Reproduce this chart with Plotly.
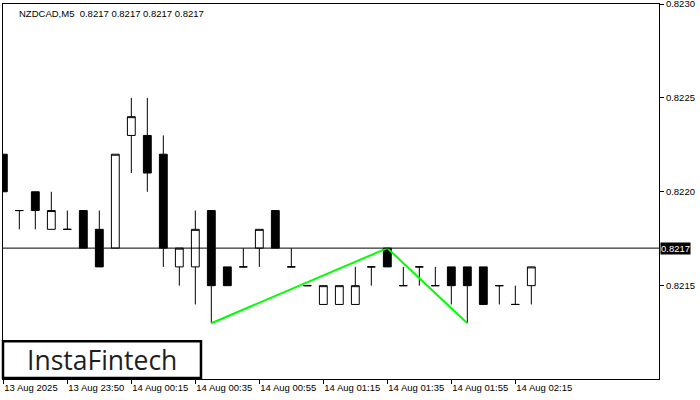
import plotly.graph_objects as go

# ---- data ----
bar_times = [
    "13 Aug 23:30", "13 Aug 23:35", "13 Aug 23:40", "13 Aug 23:45", "13 Aug 23:50",
    "13 Aug 23:55", "14 Aug 00:05", "14 Aug 00:10", "14 Aug 00:15", "14 Aug 00:20",
    "14 Aug 00:25", "14 Aug 00:30", "14 Aug 00:35", "14 Aug 00:40", "14 Aug 00:45",
    "14 Aug 00:50", "14 Aug 00:55", "14 Aug 01:00", "14 Aug 01:05", "14 Aug 01:10",
    "14 Aug 01:15", "14 Aug 01:20", "14 Aug 01:25", "14 Aug 01:30", "14 Aug 01:35",
    "14 Aug 01:40", "14 Aug 01:45", "14 Aug 01:50", "14 Aug 01:55", "14 Aug 02:00",
    "14 Aug 02:05", "14 Aug 02:10", "14 Aug 02:15", "14 Aug 02:20",
]
open_ = [0.8222, 0.8219, 0.8220, 0.8218, 0.8218, 0.8219, 0.8218, 0.8217, 0.8223, 0.8223,
         0.8222, 0.8216, 0.8216, 0.8219, 0.8216, 0.8216, 0.8217, 0.8219, 0.8216, 0.8215,
         0.8214, 0.8214, 0.8214, 0.8216, 0.8217, 0.8215, 0.8216, 0.8215, 0.8216, 0.8216,
         0.8216, 0.8215, 0.8214, 0.8215]
high = [0.8222, 0.8219, 0.8220, 0.8220, 0.8219, 0.8219, 0.8219, 0.8222, 0.8225, 0.8225,
        0.8223, 0.8217, 0.8219, 0.8219, 0.8216, 0.8217, 0.8218, 0.8219, 0.8217, 0.8215,
        0.8215, 0.8215, 0.8216, 0.8216, 0.8217, 0.8216, 0.8216, 0.8216, 0.8216, 0.8216,
        0.8216, 0.8215, 0.8215, 0.8216]
low = [0.8220, 0.8218, 0.8218, 0.8218, 0.8218, 0.8217, 0.8216, 0.8217, 0.8221, 0.8220,
       0.8216, 0.8215, 0.8214, 0.8213, 0.8215, 0.8216, 0.8216, 0.8217, 0.8216, 0.8215,
       0.8214, 0.8214, 0.8214, 0.8215, 0.8216, 0.8215, 0.8215, 0.8215, 0.8214, 0.8213,
       0.8214, 0.8214, 0.8214, 0.8214]
close = [0.8220, 0.8219, 0.8219, 0.8219, 0.8218, 0.8217, 0.8216, 0.8222, 0.8224, 0.8221,
         0.8217, 0.8217, 0.8218, 0.8215, 0.8215, 0.8216, 0.8218, 0.8217, 0.8216, 0.8215,
         0.8215, 0.8215, 0.8215, 0.8216, 0.8216, 0.8215, 0.8216, 0.8215, 0.8215, 0.8215,
         0.8214, 0.8215, 0.8214, 0.8216]

tick_times = ["13 Aug 23:30", "13 Aug 23:50", "14 Aug 00:15", "14 Aug 00:35", "14 Aug 00:55",
              "14 Aug 01:15", "14 Aug 01:35", "14 Aug 01:55", "14 Aug 02:15"]
tick_text = ["13 Aug 2025", "13 Aug 23:50", "14 Aug 00:15", "14 Aug 00:35", "14 Aug 00:55",
             "14 Aug 01:15", "14 Aug 01:35", "14 Aug 01:55", "14 Aug 02:15"]

pattern_times = ["14 Aug 00:40", "14 Aug 01:35", "14 Aug 02:00"]
pattern_prices = [0.8213, 0.8217, 0.8213]

current_price = 0.8217
y_ticks = [0.8215, 0.8220, 0.8225, 0.8230]
title_text = "NZDCAD,M5  0.8217 0.8217 0.8217 0.8217"

FONT = "Liberation Sans"

fig = go.Figure()
fig.add_trace(go.Candlestick(
    x=bar_times, open=open_, high=high, low=low, close=close,
    increasing=dict(line=dict(color="black", width=1), fillcolor="white"),
    decreasing=dict(line=dict(color="black", width=1), fillcolor="black"),
    whiskerwidth=0, showlegend=False, hoverinfo="skip",
))
fig.add_trace(go.Scatter(
    x=pattern_times, y=pattern_prices, mode="lines",
    line=dict(color="#00ff00", width=2), showlegend=False, hoverinfo="skip",
))

# current price line
fig.add_shape(type="line", xref="paper", x0=0, x1=1, yref="y",
              y0=current_price, y1=current_price,
              line=dict(color="black", width=1), layer="above")
fig.add_annotation(xref="paper", x=1, yref="y", y=current_price, text="0.8217",
                   showarrow=False, xanchor="left", xshift=1,
                   bgcolor="black", font=dict(color="white", size=9.5, family=FONT),
                   borderpad=0)

# title
fig.add_annotation(xref="paper", yref="paper", x=0, y=1, xanchor="left", yanchor="top",
                   xshift=14, yshift=-2, text=title_text, showarrow=False,
                   font=dict(size=9.5, color="black", family=FONT))

# logo
fig.add_shape(type="rect", xref="paper", yref="paper", x0=0, x1=0.3018, y0=0.003, y1=0.101,
              line=dict(color="black", width=2.5), fillcolor="white", layer="above")
fig.add_annotation(xref="paper", yref="paper", x=0.1509, y=0.052, text="InstaFintech",
                   showarrow=False, xanchor="center", yanchor="middle",
                   font=dict(size=26.5, color="#1e1e1e", family="Open Sans"))

fig.update_layout(
    width=700, height=400,
    margin=dict(l=3, r=41, t=4, b=21, autoexpand=False),
    paper_bgcolor="white", plot_bgcolor="white",
    boxgap=0.3,
    xaxis=dict(
        type="category", range=[-0.02, 40.98], automargin=False,
        rangeslider=dict(visible=False),
        tickmode="array", tickvals=tick_times, ticktext=tick_text, tickangle=0,
        ticks="outside", ticklen=4, tickcolor="black",
        ticklabelposition="outside right", ticklabeloverflow="allow",
        tickfont=dict(size=9.5, color="black", family=FONT),
        showgrid=False, zeroline=False,
        showline=True, linecolor="black", linewidth=1, mirror=True,
    ),
    yaxis=dict(
        side="right", range=[0.821003, 0.823000], automargin=False,
        tickmode="array", tickvals=y_ticks, ticktext=[f"{v:.4f}" for v in y_ticks],
        ticks="outside", ticklen=4, tickcolor="black", ticklabeloverflow="allow",
        tickfont=dict(size=9.5, color="black", family=FONT),
        showgrid=False, zeroline=False,
        showline=True, linecolor="black", linewidth=1, mirror=True,
    ),
)

fig.write_html("out.html", config={"displayModeBar": False},
               post_script="document.body.style.margin='0';document.body.style.overflow='hidden';")
